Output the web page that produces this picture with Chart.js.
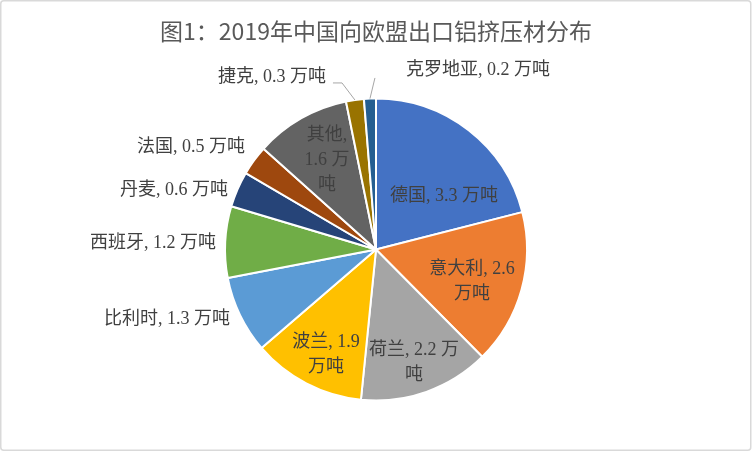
<!DOCTYPE html>
<html><head><meta charset="utf-8">
<script src="https://cdn.jsdelivr.net/npm/chart.js@4.4.1/dist/chart.umd.min.js"></script>
<style>html,body{margin:0;padding:0;background:#fff}#wrap{width:752px;height:452px;position:relative}</style>
</head><body><div id="wrap"><canvas id="c" width="752" height="452"></canvas></div>
<script>
const titleText = '图1：2019年中国向欧盟出口铝挤压材分布';
const categories = ['德国','意大利','荷兰','波兰','比利时','西班牙','丹麦','法国','其他','捷克','克罗地亚'];
const values = [3.3, 2.6, 2.2, 1.9, 1.3, 1.2, 0.6, 0.5, 1.6, 0.3, 0.2];
const unit = '万吨';
const colors = ['#4472C4','#ED7D31','#A5A5A5','#FFC000','#5B9BD5','#70AD47','#264478','#9E480E','#636363','#997300','#255E91'];

// label layout (relative to pie centre, in units of radius) and wrap widths
const labelLayout = [
  {fx: 0.450, fy:-0.351, wrap: 200},
  {fx: 0.636, fy: 0.212, wrap: 95},
  {fx: 0.252, fy: 0.752, wrap: 100},
  {fx:-0.331, fy: 0.695, wrap: 78},
  {fx:-1.384, fy: 0.464, wrap: 300},
  {fx:-1.477, fy:-0.040, wrap: 300},
  {fx:-1.338, fy:-0.391, wrap: 300},
  {fx:-1.225, fy:-0.675, wrap: 300},
  {fx:-0.325, fy:-0.589, wrap: 55},
  {fx:-0.689, fy:-1.139, wrap: 300, leader: [[-0.285,-1.103],[-0.225,-1.103]]},
  {fx: 0.675, fy:-1.185, wrap: 300, leader: [[-0.007,-1.136]]}
];

const labelFont = '18px "Liberation Serif", "Noto Sans CJK SC", serif';
const labelColor = '#404040';
const lineH = 25;

function tokenize(s){
  const out=[]; let cur='';
  for (const ch of s){
    if (/[\u3000-\u9fff\uff00-\uffef]/.test(ch)){ if(cur){out.push(cur);cur='';} out.push(ch); }
    else if (ch===' '){ if(cur){out.push(cur);cur='';} out.push(' '); }
    else cur+=ch;
  }
  if(cur) out.push(cur);
  return out;
}
function wrapText(ctx, s, maxW){
  const toks = tokenize(s); const lines=[]; let line='';
  for (const t of toks){
    const test = line + t;
    if (line.trim() && ctx.measureText(test.trimEnd()).width > maxW){
      lines.push(line.trimEnd()); line = (t===' ') ? '' : t;
    } else line = test;
  }
  if (line.trim()) lines.push(line.trimEnd());
  return lines;
}

const labelPlugin = {
  id:'pieLabels',
  beforeDraw(chart){
    const ctx = chart.ctx;
    ctx.save();
    ctx.fillStyle='#fff'; ctx.fillRect(0,0,chart.width,chart.height);
    ctx.strokeStyle='#D9D9D9'; ctx.lineWidth=1.5;
    ctx.beginPath();
    if (ctx.roundRect) ctx.roundRect(0.75,0.75,chart.width-2,chart.height-2.5,3); else ctx.rect(0.75,0.75,chart.width-2,chart.height-2.5);
    ctx.stroke();
    ctx.restore();
  },
  afterDatasetsDraw(chart){
    const ctx = chart.ctx;
    const meta = chart.getDatasetMeta(0);
    ctx.save();
    ctx.font = labelFont; ctx.fillStyle = labelColor;
    ctx.textAlign='center'; ctx.textBaseline='middle';
    meta.data.forEach((arc, i)=>{
      const p = arc.getProps(['x','y','startAngle','endAngle','outerRadius'], true);
      const R = p.outerRadius;
      const L = labelLayout[i];
      const lx = p.x + L.fx*R, ly = p.y + L.fy*R;
      const text = categories[i] + ', ' + values[i] + ' ' + unit;
      const lines = wrapText(ctx, text, L.wrap);
      const y0 = ly - (lines.length-1)*lineH/2;
      lines.forEach((ln,k)=>ctx.fillText(ln, lx, y0 + k*lineH));
      if (L.leader){
        const mid = (p.startAngle + p.endAngle)/2;
        ctx.save();
        ctx.strokeStyle='#A6A6A6'; ctx.lineWidth=1;
        ctx.beginPath();
        L.leader.forEach((pt,k)=>{ const x=p.x+pt[0]*R, y=p.y+pt[1]*R; k?ctx.lineTo(x,y):ctx.moveTo(x,y); });
        ctx.lineTo(p.x + R*Math.cos(mid), p.y + R*Math.sin(mid));
        ctx.stroke();
        ctx.restore();
      }
    });
    ctx.restore();
  }
};

new Chart(document.getElementById('c'), {
  type:'pie',
  data:{ labels: categories, datasets:[{ data: values, backgroundColor: colors, borderColor:'#ffffff', borderWidth:2 }]},
  options:{
    responsive:false, animation:false, devicePixelRatio:1,
    layout:{ padding:{ top:0, bottom:50.5, left:0, right:0 } },
    plugins:{
      legend:{ display:false }, tooltip:{ enabled:false },
      title:{ display:true, text:titleText, color:'#595959',
        font:{ family:'"Noto Sans CJK SC", sans-serif', size:23, weight:'normal', lineHeight:1.2 },
        padding:{ top:17.2, bottom:52.7 } }
    }
  },
  plugins:[labelPlugin]
});
</script></body></html>
